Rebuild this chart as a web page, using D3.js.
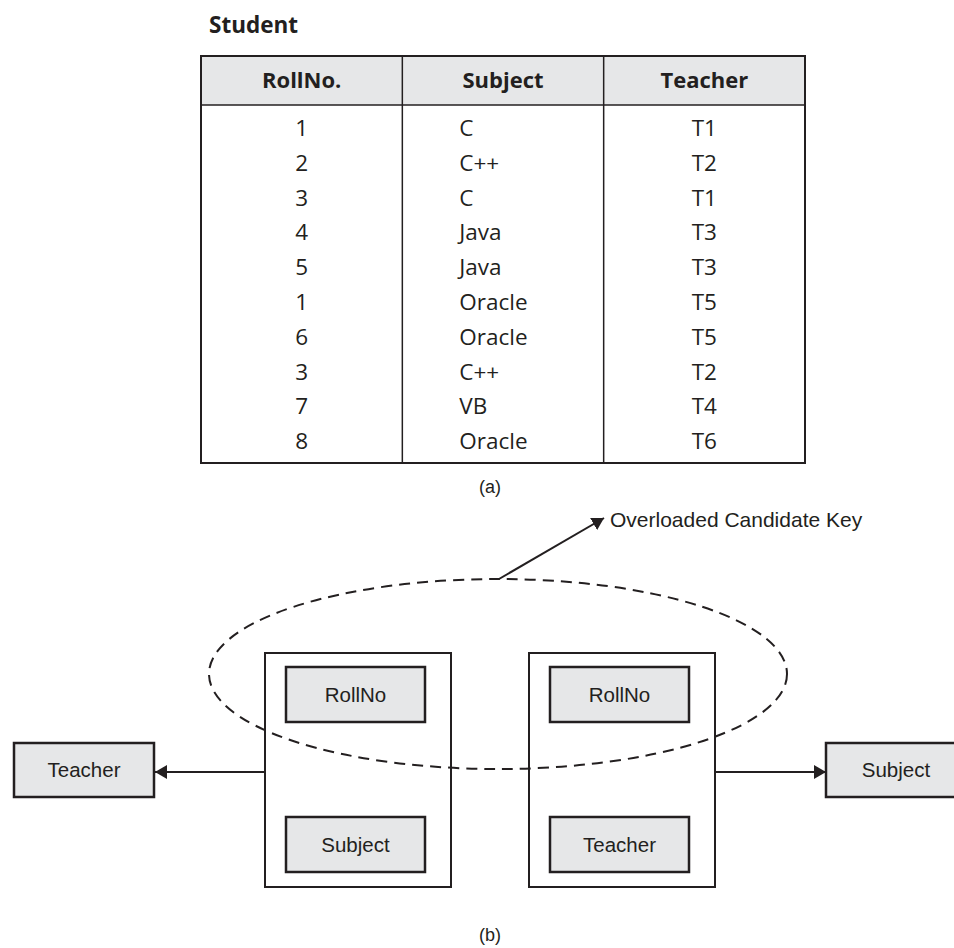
<!DOCTYPE html>
<html>
<head>
<meta charset="utf-8">
<script src="https://cdn.jsdelivr.net/npm/d3@7"></script>
<style>
  html, body { margin: 0; padding: 0; background: #fff; }
  svg { display: block; }
</style>
</head>
<body>
<svg id="chart" width="954" height="948"></svg>
<script>
// ---------- data ----------
const tableTitle = "Student";
const columns = ["RollNo.", "Subject", "Teacher"];
const rollNo  = [1, 2, 3, 4, 5, 1, 6, 3, 7, 8];
const subject = ["C", "C++", "C", "Java", "Java", "Oracle", "Oracle", "C++", "VB", "Oracle"];
const teacher = ["T1", "T2", "T1", "T3", "T3", "T5", "T5", "T2", "T4", "T6"];
const captionA = "(a)";
const captionB = "(b)";

// diagram (b)
const leftDeterminantAttrs  = ["RollNo", "Subject"];
const leftDependent         = "Teacher";
const rightDeterminantAttrs = ["RollNo", "Teacher"];
const rightDependent        = "Subject";
const ellipseLabel = "Overloaded Candidate Key";

// ---------- drawing ----------
const svg = d3.select("#chart");
const ink = "#231f20";
const fillGray = "#e6e7e8";
const tableFont = "'Open Sans', 'DejaVu Sans', sans-serif";
const diagFont = "'Liberation Sans', Arial, sans-serif";

svg.append("defs").append("marker")
  .attr("id", "arrow")
  .attr("viewBox", "0 0 12 14")
  .attr("refX", 12).attr("refY", 7)
  .attr("markerWidth", 12).attr("markerHeight", 14)
  .attr("markerUnits", "userSpaceOnUse")
  .attr("orient", "auto")
  .append("path").attr("d", "M0,0 L12,7 L0,14 Z").attr("fill", ink);

// ----- Table (a) -----
const rows = rollNo.map((r, i) => ({ RollNo: r, Subject: subject[i], Teacher: teacher[i] }));
const tLeft = 201, tRight = 805, tTop = 56, tHeadBottom = 105, tBottom = 463;
const x = d3.scaleBand().domain(columns).range([tLeft, tRight]);
const y = d3.scaleBand().domain(d3.range(rows.length)).range([110.6, 458.4]);

svg.append("text")
  .attr("x", 209).attr("y", 33)
  .attr("font-family", tableFont).attr("font-weight", 700)
  .attr("font-size", 22.5).attr("fill", ink)
  .text(tableTitle);

svg.append("rect")
  .attr("x", tLeft).attr("y", tTop)
  .attr("width", tRight - tLeft).attr("height", tHeadBottom - tTop)
  .attr("fill", fillGray);

svg.selectAll("text.head").data(columns).join("text")
  .attr("class", "head")
  .attr("x", d => x(d) + x.bandwidth() / 2)
  .attr("y", (tTop + tHeadBottom) / 2).attr("dy", "0.36em")
  .attr("text-anchor", "middle")
  .attr("font-family", tableFont).attr("font-weight", 700)
  .attr("font-size", 22).attr("fill", ink)
  .text(d => d);

// cells
const keys = ["RollNo", "Subject", "Teacher"];
rows.forEach((r, i) => {
  keys.forEach((k, j) => {
    const col = columns[j];
    const isLeft = k === "Subject";
    svg.append("text")
      .attr("x", isLeft ? x(col) + 57 : x(col) + x.bandwidth() / 2)
      .attr("y", y(i) + y.bandwidth() / 2).attr("dy", "0.36em")
      .attr("text-anchor", isLeft ? "start" : "middle")
      .attr("font-family", tableFont).attr("font-size", 22.5)
      .attr("fill", ink)
      .text(r[k]);
  });
});

// borders
svg.append("rect")
  .attr("x", tLeft).attr("y", tTop)
  .attr("width", tRight - tLeft).attr("height", tBottom - tTop)
  .attr("fill", "none").attr("stroke", ink).attr("stroke-width", 2);
svg.append("line")
  .attr("x1", tLeft).attr("x2", tRight).attr("y1", tHeadBottom).attr("y2", tHeadBottom)
  .attr("stroke", ink).attr("stroke-width", 1.6);
columns.slice(1).forEach(c => {
  svg.append("line")
    .attr("x1", x(c)).attr("x2", x(c)).attr("y1", tTop).attr("y2", tBottom)
    .attr("stroke", ink).attr("stroke-width", 1.5);
});

svg.append("text")
  .attr("x", 490).attr("y", 487).attr("dy", "0.35em")
  .attr("text-anchor", "middle")
  .attr("font-family", diagFont).attr("font-size", 18).attr("fill", ink)
  .text(captionA);

// ----- Diagram (b) -----
const outerTop = 653, outerBottom = 887;
const outers = [
  { x0: 265, x1: 451, attrs: leftDeterminantAttrs },
  { x0: 529, x1: 715, attrs: rightDeterminantAttrs }
];
const innerY = [[667, 722], [817, 872]];

outers.forEach(o => {
  svg.append("rect")
    .attr("x", o.x0).attr("y", outerTop)
    .attr("width", o.x1 - o.x0).attr("height", outerBottom - outerTop)
    .attr("fill", "#fff").attr("stroke", ink).attr("stroke-width", 2);
  o.attrs.forEach((a, k) => {
    const bx = o.x0 + 21, bw = 139;
    svg.append("rect")
      .attr("x", bx).attr("y", innerY[k][0])
      .attr("width", bw).attr("height", innerY[k][1] - innerY[k][0])
      .attr("fill", fillGray).attr("stroke", ink).attr("stroke-width", 2.5);
    svg.append("text")
      .attr("x", bx + bw / 2).attr("y", (innerY[k][0] + innerY[k][1]) / 2).attr("dy", "0.35em")
      .attr("text-anchor", "middle")
      .attr("font-family", diagFont).attr("font-size", 20.5).attr("fill", ink)
      .text(a);
  });
});

// ellipse (dashed) drawn over boxes
svg.append("ellipse")
  .attr("cx", 498).attr("cy", 674).attr("rx", 289).attr("ry", 95)
  .attr("fill", "none").attr("stroke", ink).attr("stroke-width", 2)
  .attr("stroke-dasharray", "11,7");

// dependent boxes
const depY0 = 743, depY1 = 797, depMid = 772;
const deps = [
  { name: leftDependent, bx: 14, from: 265, to: 155 },
  { name: rightDependent, bx: 826, from: 715, to: 826 }
];
deps.forEach(d => {
  svg.append("rect")
    .attr("x", d.bx).attr("y", depY0).attr("width", 140).attr("height", depY1 - depY0)
    .attr("fill", fillGray).attr("stroke", ink).attr("stroke-width", 2.5);
  svg.append("text")
    .attr("x", d.bx + 70).attr("y", (depY0 + depY1) / 2).attr("dy", "0.35em")
    .attr("text-anchor", "middle")
    .attr("font-family", diagFont).attr("font-size", 20.5).attr("fill", ink)
    .text(d.name);
  svg.append("line")
    .attr("x1", d.from).attr("y1", depMid).attr("x2", d.to).attr("y2", depMid)
    .attr("stroke", ink).attr("stroke-width", 2)
    .attr("marker-end", "url(#arrow)");
});

// pointer to label
svg.append("line")
  .attr("x1", 499).attr("y1", 579).attr("x2", 604).attr("y2", 518)
  .attr("stroke", ink).attr("stroke-width", 2)
  .attr("marker-end", "url(#arrow)");
svg.append("text")
  .attr("x", 610).attr("y", 520).attr("dy", "0.35em")
  .attr("font-family", diagFont).attr("font-size", 21).attr("fill", ink)
  .text(ellipseLabel);

svg.append("text")
  .attr("x", 490).attr("y", 935).attr("dy", "0.35em")
  .attr("text-anchor", "middle")
  .attr("font-family", diagFont).attr("font-size", 18).attr("fill", ink)
  .text(captionB);
</script>
</body>
</html>
